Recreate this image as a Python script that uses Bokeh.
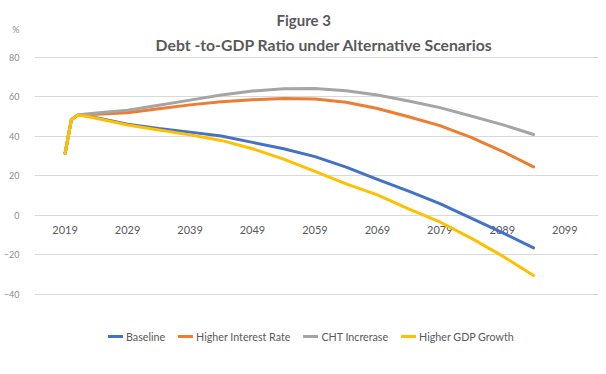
from bokeh.plotting import figure
from bokeh.models import Label, Legend, LegendItem, FixedTicker, Range1d, ColumnDataSource
from bokeh.core.properties import value
from bokeh.embed import file_html
from bokeh.resources import INLINE

# ---- data ----
years = [2019, 2020, 2021, 2022, 2024, 2029, 2034, 2039, 2044, 2049, 2054,
         2059, 2064, 2069, 2074, 2079, 2084, 2089, 2094]
baseline = [31.5, 48.5, 50.8, 50.6, 49.5, 46.2, 44.0, 42.2, 40.2, 37.0, 33.8,
            29.8, 24.5, 18.3, 12.3, 6.0, -1.3, -8.7, -16.4]
higher_interest = [31.5, 48.5, 50.8, 51.0, 51.2, 52.0, 54.0, 56.0, 57.6, 58.6, 59.2,
                   59.0, 57.3, 54.2, 50.0, 45.5, 39.5, 32.5, 24.6]
cht_increase = [31.5, 48.5, 50.8, 51.3, 51.9, 53.3, 55.8, 58.4, 61.0, 63.0, 64.2,
                64.3, 63.2, 61.0, 58.0, 54.6, 50.4, 46.0, 41.0]
higher_gdp = [31.5, 48.5, 50.8, 50.5, 49.2, 45.8, 43.3, 40.8, 38.0, 33.8, 28.5,
              22.3, 16.0, 10.4, 3.3, -3.3, -11.5, -20.5, -30.4]

series_names = ["Baseline", "Higher Interest Rate", "CHT Increrase", "Higher GDP Growth"]
series_colors = ["#4472C4", "#ED7D31", "#A5A5A5", "#FFC000"]

x_tick_years = [2019, 2029, 2039, 2049, 2059, 2069, 2079, 2089, 2099]
y_ticks = [-40, -20, 0, 20, 40, 60, 80]
unit_label = "%"
unit_label_pos = 94

title_text = "Figure 3"
subtitle_text = "Debt -to-GDP Ratio under Alternative Scenarios"

FONT = "Lato"
GREY_TEXT = "#595959"

p = figure(width=598, height=366, output_backend="svg", toolbar_location=None,
           x_range=Range1d(2014.1, 2104.4), y_range=Range1d(-76.5, 108.86),
           x_axis_location=None,
           min_border_left=29, min_border_right=0, min_border_top=0, min_border_bottom=0)
p.outline_line_color = None
p.background_fill_color = "white"
p.border_fill_color = "white"

# titles (placed in the empty band above the 80 gridline)
p.add_layout(Label(x=2057.2, y=99.0, text=title_text, text_align="center",
                   text_baseline="alphabetic", text_font=FONT, text_font_size="15px",
                   text_font_style="bold", text_color=GREY_TEXT))
p.add_layout(Label(x=2060.5, y=86.6, text=subtitle_text, text_align="center",
                   text_baseline="alphabetic", text_font=FONT, text_font_size="15.75px",
                   text_font_style="bold", text_color=GREY_TEXT))

# y axis (with the "%" unit shown at the top of the axis)
p.yaxis.ticker = FixedTicker(ticks=y_ticks + [unit_label_pos])
p.yaxis.major_label_overrides = {unit_label_pos: unit_label}
p.yaxis.axis_line_color = None
p.yaxis.major_tick_line_color = None
p.yaxis.minor_tick_line_color = None
p.yaxis.major_label_standoff = 9
p.yaxis.major_label_text_font = FONT
p.yaxis.major_label_text_font_size = "9px"
p.yaxis.major_label_text_color = "#8c8c8c"

p.xgrid.visible = False
p.ygrid.ticker = FixedTicker(ticks=y_ticks)
p.ygrid.grid_line_color = "#d9d9d9"
p.ygrid.grid_line_width = 1

# x category labels placed along the zero line
lab_src = ColumnDataSource(dict(x=x_tick_years, y=[0] * len(x_tick_years),
                                t=[str(v) for v in x_tick_years]))
p.text(x="x", y="y", text="t", source=lab_src, text_align="center", text_baseline="middle",
       y_offset=15, text_font=value(FONT), text_font_size="11px", text_color=GREY_TEXT)

items = []
for name, col, data in zip(series_names, series_colors,
                           [baseline, higher_interest, cht_increase, higher_gdp]):
    r = p.line(years, data, line_color=col, line_width=3, line_join="round", line_cap="round")
    items.append(LegendItem(label=name, renderers=[r]))

legend = Legend(items=items, orientation="horizontal", location=(74, 23),
                margin=0, padding=0, spacing=13, label_standoff=3,
                glyph_width=15, glyph_height=12, label_height=14,
                label_text_font=FONT, label_text_font_size="10.7px",
                label_text_color=GREY_TEXT, border_line_color=None,
                background_fill_alpha=0)
p.add_layout(legend, "center")

open("out.html", "w").write(file_html(p, INLINE))
